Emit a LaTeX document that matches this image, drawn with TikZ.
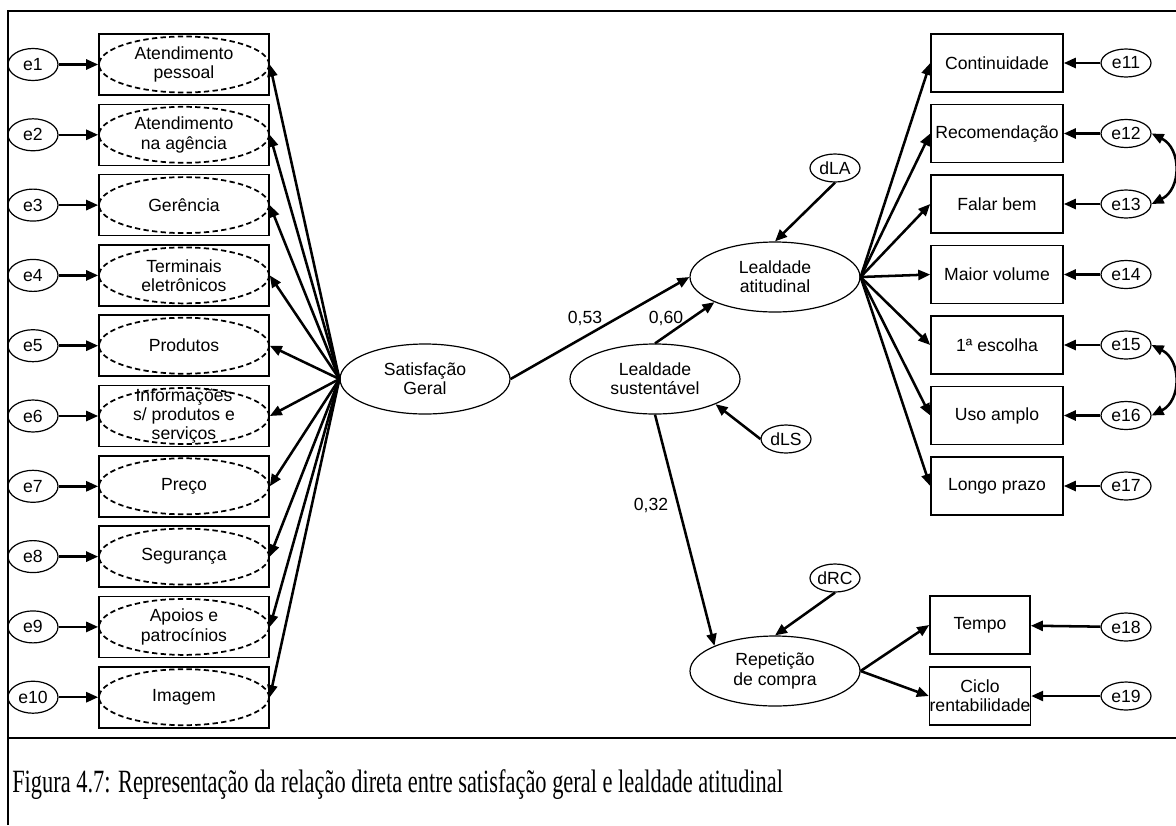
\documentclass[tikz,border=0pt]{standalone}
\usepackage{graphicx}
\usepackage{fontspec}
\setmainfont{Liberation Sans}
\newfontfamily\capfont{Liberation Serif}
\usetikzlibrary{shapes.geometric,arrows.meta}

\tikzset{
  lat/.style={ellipse, draw, line width=0.9pt, minimum width=127.5pt,
    minimum height=52.5pt, inner sep=0pt, align=center},
  errl/.style={ellipse, draw, line width=0.9pt, minimum width=37.5pt,
    minimum height=24pt, inner sep=0pt},
  errr/.style={ellipse, draw, line width=0.9pt, minimum width=37.5pt,
    minimum height=21pt, inner sep=0pt},
  obsbox/.style={rectangle, draw, line width=1.2pt, minimum width=127.5pt,
    minimum height=45.75pt, inner sep=0pt, align=center},
  rbox/.style={rectangle, draw, line width=1.2pt, minimum width=99pt,
    minimum height=43.5pt, inner sep=0pt, align=center},
  sbox/.style={rbox, minimum width=75pt},
  dashell/.style={ellipse, draw, dash pattern=on 4pt off 2.5pt,
    line width=1.3pt, minimum width=127.5pt, minimum height=42pt, inner sep=0pt},
  arr/.style={line width=1.9pt, -{Triangle[length=9pt,width=7.5pt]}},
  dbl/.style={line width=1.9pt, {Triangle[length=9pt,width=7.5pt]}-{Triangle[length=9pt,width=7.5pt]}},
  coef/.style={inner sep=0pt},
  frame/.style={line width=1.6pt}
}

\begin{document}
\begin{tikzpicture}[x=0.75pt,y=-0.75pt,font=\fontsize{13.2}{14.5}\selectfont]
\useasboundingbox (0,0) rectangle (1176,825);

% outer frame and caption separator
\draw[frame] (8,825) -- (8,11) -- (1176,11);
\draw[frame] (8,738) -- (1176,738);

% measurement model of overall satisfaction
\foreach \i/\t in {1/{Atendimento\\pessoal},2/{Atendimento\\na agência},3/Gerência,
  4/{Terminais\\eletrônicos},5/Produtos,6/{Informações\\s/ produtos e\\serviços},
  7/Preço,8/Segurança,9/{Apoios e\\patrocínios},10/Imagem}{
  \pgfmathsetmacro\yy{64.5+70.3*(\i-1)}
  \node[dashell] (de\i) at (184,\yy) {};
  \node[obsbox] (m\i) at (184,\yy) {\t};
  \node[errl] (e\i) at (33,\yy) {e\i};
  \draw[arr] (e\i) -- (m\i);
}

% latent constructs
\node[lat] (sat) at (425,379) {Satisfação\\Geral};
\node[lat] (la) at (775,277) {Lealdade\\atitudinal};
\node[lat] (ls) at (655,379) {Lealdade\\sustentável};
\node[lat] (rep) at (775,671) {Repetição\\de compra};

\foreach \i in {1,...,10}{
  \draw[arr] (sat.west) -- (m\i.east);
}

% disturbances
\node[errr] (dla) at (835,168) {dLA};
\node[errr] (dls) at (786,439) {dLS};
\node[errr] (drc) at (835,578) {dRC};

% structural paths
\draw[arr] (sat.east) -- (la.west);
\draw[arr] (ls.north) -- (la.south west);
\draw[arr] (ls.south) -- (rep.north west);
\draw[arr] (dla.south) -- (la.north);
\draw[arr] (dls.west) -- (ls.south east);
\draw[arr] (drc.south) -- (rep.north);

\node[coef] (c53) at (585,318) {0,53};
\node[coef] (c60) at (666,318) {0,60};
\node[coef] (c32) at (651,505) {0,32};

% attitudinal loyalty indicators
\foreach \k/\t in {11/Continuidade,12/Recomendação,13/Falar bem,14/Maior volume,
  15/1ª escolha,16/Uso amplo,17/Longo prazo}{
  \pgfmathsetmacro\yy{63+70.5*(\k-11)}
  \node[rbox] (r\k) at (997,\yy) {\t};
  \node[errr] (e\k) at (1126,\yy) {e\k};
  \draw[arr] (e\k) -- (r\k);
  \draw[arr] (la.east) -- (r\k.west);
}

% repeat purchase indicators
\node[sbox] (tempo) at (980,625) {Tempo};
\node[sbox] (ciclo) at (980,696) {Ciclo\\rentabilidade};
\node[errr] (e18) at (1126,627) {e18};
\node[errr] (e19) at (1126,696) {e19};
\draw[arr] (e18) -- (tempo);
\draw[arr] (e19) -- (ciclo);
\draw[arr] (rep.east) -- (tempo.west);
\draw[arr] (rep.east) -- (ciclo.west);

% correlated errors
\draw[dbl] (e12.east) .. controls +(30,15) and +(30,-15) .. (e13.east);
\draw[dbl] (e15.east) .. controls +(30,15) and +(30,-15) .. (e16.east);

% caption
\node[anchor=base west, inner sep=0pt] (cap) at (12,792)
  {\scalebox{1}[1.45]{\resizebox{578pt}{!}{\capfont Figura 4.7: Representação da relação direta entre satisfação geral e lealdade atitudinal}}};
\end{tikzpicture}
\end{document}
